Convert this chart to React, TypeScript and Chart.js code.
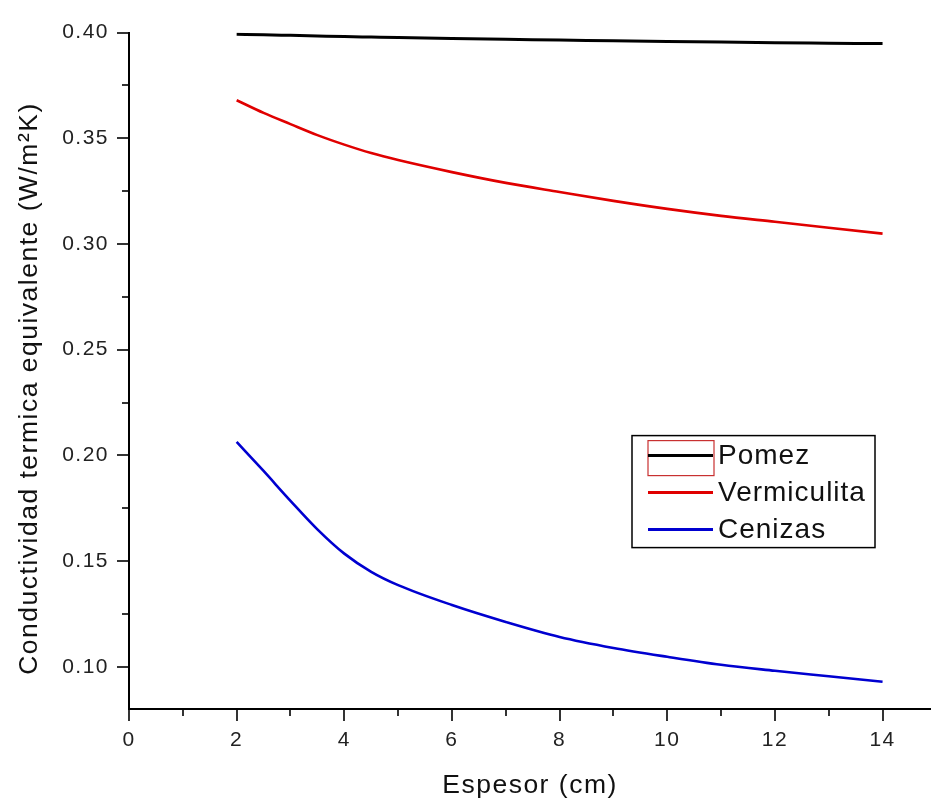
import { useEffect, useRef } from 'react';
import { Chart, registerables } from 'chart.js';

Chart.register(...registerables);

const espesor = [2, 2.5, 3, 3.5, 4, 4.5, 5, 6, 7, 8, 9, 10, 11, 12, 13, 14];
const pomez = [0.3992, 0.399, 0.3987, 0.3984, 0.3981, 0.3979, 0.3977, 0.3972, 0.3968, 0.3965, 0.3961, 0.3958, 0.3955, 0.3952, 0.395, 0.3948];
const vermiculita = [0.368, 0.362, 0.3567, 0.3515, 0.347, 0.343, 0.3397, 0.334, 0.3289, 0.3246, 0.3204, 0.3166, 0.3133, 0.3105, 0.3077, 0.3049];
const cenizas = [0.2064, 0.1926, 0.1785, 0.165, 0.1535, 0.1449, 0.1386, 0.1292, 0.1212, 0.1141, 0.1089, 0.1047, 0.1009, 0.0981, 0.0955, 0.0929];
const seriesLabels = ['Pomez', 'Vermiculita', 'Cenizas'];
const seriesColors = ['#000000', '#e00000', '#0000d0'];

const xMajorTicks = [0, 2, 4, 6, 8, 10, 12, 14];
const xMinorTicks = [1, 3, 5, 7, 9, 11, 13];
const yMajorTicks = [0.1, 0.15, 0.2, 0.25, 0.3, 0.35, 0.4];
const yMinorTicks = [0.125, 0.175, 0.225, 0.275, 0.325, 0.375];
const xTitle = 'Espesor (cm)';
const yTitle = 'Conductividad termica equivalente (W/m²K)';

const FONT = "Arial, 'Liberation Sans', sans-serif";

const decorPlugin = {
  id: 'decor',
  beforeDraw(chart: any) {
    chart.ctx.letterSpacing = '1.5px';
  },
  afterDraw(chart: any) {
    const ctx = chart.ctx;
    const xs = chart.scales.x;
    const ys = chart.scales.y;
    const area = chart.chartArea;
    ctx.save();
    ctx.strokeStyle = '#000';
    ctx.lineWidth = 1.6;
    const tick = (x1: number, y1: number, x2: number, y2: number) => {
      ctx.beginPath();
      ctx.moveTo(x1, y1);
      ctx.lineTo(x2, y2);
      ctx.stroke();
    };
    xMajorTicks.forEach((v) => {
      const px = Math.round(xs.getPixelForValue(v));
      tick(px, area.bottom, px, area.bottom + 12);
    });
    xMinorTicks.forEach((v) => {
      const px = Math.round(xs.getPixelForValue(v));
      tick(px, area.bottom, px, area.bottom + 7);
    });
    yMajorTicks.forEach((v) => {
      const py = Math.round(ys.getPixelForValue(v));
      tick(area.left - 12, py, area.left, py);
    });
    yMinorTicks.forEach((v) => {
      const py = Math.round(ys.getPixelForValue(v));
      tick(area.left - 7, py, area.left, py);
    });

    // legend
    const bx = area.left + 503;
    const by = area.top + 403;
    const bw = 243;
    const bh = 112;
    ctx.fillStyle = '#fff';
    ctx.fillRect(bx, by, bw, bh);
    ctx.strokeStyle = '#000';
    ctx.lineWidth = 1.5;
    ctx.strokeRect(bx, by, bw, bh);
    ctx.letterSpacing = '1px';
    ctx.font = `28px ${FONT}`;
    ctx.textBaseline = 'middle';
    ctx.textAlign = 'left';
    chart.data.datasets.forEach((ds: any, i: number) => {
      const ry = by + 20 + i * 37;
      if (i === 0) {
        ctx.strokeStyle = '#c83030';
        ctx.lineWidth = 1.2;
        ctx.strokeRect(bx + 16, by + 5, 66, 35);
      }
      ctx.strokeStyle = ds.borderColor;
      ctx.lineWidth = 3;
      tick(bx + 16, ry, bx + 81, ry);
      ctx.fillStyle = '#111';
      ctx.fillText(ds.label, bx + 86, ry + 1);
    });
    ctx.restore();
    ctx.letterSpacing = '0px';
  },
};

export default function App() {
  const canvasRef = useRef<HTMLCanvasElement | null>(null);

  useEffect(() => {
    if (!canvasRef.current) return;
    const allSeries = [pomez, vermiculita, cenizas];
    const chart = new Chart(canvasRef.current, {
      type: 'line',
      data: {
        datasets: allSeries.map((s, i) => ({
          label: seriesLabels[i],
          data: espesor.map((x, j) => ({ x, y: s[j] })),
          borderColor: seriesColors[i],
          backgroundColor: seriesColors[i],
          borderWidth: i === 0 ? 3 : 2.6,
          pointRadius: 0,
          cubicInterpolationMode: 'monotone',
          fill: false,
        })),
      },
      options: {
        animation: false,
        responsive: true,
        maintainAspectRatio: false,
        layout: { padding: { top: 30, right: 0, bottom: 0, left: 0 } },
        plugins: {
          legend: { display: false },
          tooltip: { enabled: false },
        },
        scales: {
          x: {
            type: 'linear',
            min: 0,
            max: 14.9,
            afterBuildTicks: (scale: any) => {
              scale.ticks = [...xMajorTicks, ...xMinorTicks].sort((a, b) => a - b).map((v) => ({ value: v }));
            },
            afterFit: (scale: any) => {
              scale.height = 93;
            },
            grid: { display: false, drawTicks: false },
            border: { display: true, color: '#000', width: 2 },
            ticks: {
              autoSkip: false,
              maxRotation: 0,
              padding: 19,
              color: '#222',
              font: { family: FONT, size: 21 },
              callback: (v: any) => (xMajorTicks.includes(Number(v)) ? String(v) : ''),
            },
            title: {
              display: true,
              text: xTitle,
              color: '#111',
              font: { family: FONT, size: 26.5 },
              padding: { top: 0, bottom: 0 },
            },
          },
          y: {
            type: 'linear',
            min: 0.08,
            max: 0.4,
            afterBuildTicks: (scale: any) => {
              scale.ticks = [...yMajorTicks, ...yMinorTicks].sort((a, b) => a - b).map((v) => ({ value: v }));
            },
            afterFit: (scale: any) => {
              scale.width = 129;
            },
            grid: { display: false, drawTicks: false },
            border: { display: true, color: '#000', width: 2 },
            ticks: {
              autoSkip: false,
              padding: 20,
              color: '#222',
              font: { family: FONT, size: 21 },
              callback: (v: any) => (yMajorTicks.includes(Number(v)) ? Number(v).toFixed(2) : ''),
            },
            title: {
              display: true,
              text: yTitle + '    ',
              color: '#111',
              font: { family: FONT, size: 26.5 },
              padding: { top: 14, bottom: 0 },
            },
          },
        },
      },
      plugins: [decorPlugin],
    } as any);
    return () => chart.destroy();
  }, []);

  return (
    <div style={{ position: 'absolute', left: 0, top: 0, width: 931, height: 802, background: '#fff' }}>
      <canvas ref={canvasRef} />
    </div>
  );
}
